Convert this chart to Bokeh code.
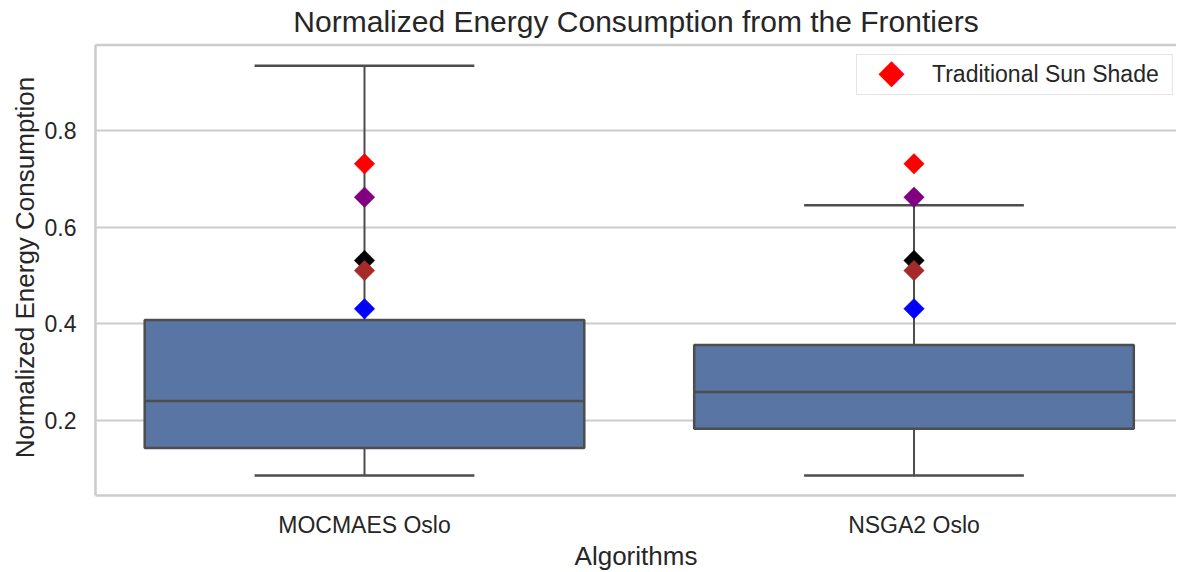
import math
from bokeh.plotting import figure
from bokeh.models import (ColumnDataSource, Range1d, FixedTicker, Legend, LegendItem, Span, Label)
from bokeh.embed import file_html
from bokeh.resources import INLINE

# ---- data ----
categories = ["MOCMAES Oslo", "NSGA2 Oslo"]
whisker_low = [0.086, 0.086]
q1 = [0.143, 0.183]
median = [0.240, 0.259]
q3 = [0.408, 0.356]
whisker_high = [0.934, 0.645]

marker_values = [0.731, 0.662, 0.531, 0.510, 0.431]
marker_colors = ["red", "purple", "black", "brown", "blue"]
marker_labels = ["Traditional Sun Shade", None, None, None, None]

title_text = "Normalized Energy Consumption from the Frontiers"
x_label = "Algorithms"
y_label = "Normalized Energy Consumption"

FONT = "Liberation Sans"
TXT = "#262626"
GRID = "#cccccc"
BOX_FILL = "#5975a4"
EDGE = "#4d4d4d"

xpos = list(range(len(categories)))
box_w = 0.8
cap_w = 0.4
y_top_spine = 0.977

p = figure(width=1176, height=573, output_backend="svg", toolbar_location=None,
           x_range=Range1d(-0.4895, 1.4777), y_range=Range1d(0.0447, 0.9882),
           min_border_left=95, min_border_right=0, min_border_top=0, min_border_bottom=0)

p.title.text = title_text
p.title.text_font = FONT
p.title.text_font_size = "30px"
p.title.text_font_style = "normal"
p.title.text_color = TXT
p.title.align = "center"
p.title.offset = 14
p.title.standoff = 4

p.outline_line_color = None
p.background_fill_color = "white"
p.border_fill_color = "white"

src = ColumnDataSource(dict(
    x=xpos,
    left=[x - box_w / 2 for x in xpos], right=[x + box_w / 2 for x in xpos],
    cl=[x - cap_w / 2 for x in xpos], cr=[x + cap_w / 2 for x in xpos],
    lo=whisker_low, q1=q1, med=median, q3=q3, hi=whisker_high,
))

# whiskers
p.segment(x0="x", y0="q3", x1="x", y1="hi", source=src, line_color=EDGE, line_width=2)
p.segment(x0="x", y0="lo", x1="x", y1="q1", source=src, line_color=EDGE, line_width=2)
# caps
p.segment(x0="cl", y0="hi", x1="cr", y1="hi", source=src, line_color=EDGE, line_width=2.5)
p.segment(x0="cl", y0="lo", x1="cr", y1="lo", source=src, line_color=EDGE, line_width=2.5)
# boxes
p.quad(left="left", right="right", bottom="q1", top="q3", source=src,
       fill_color=BOX_FILL, line_color=EDGE, line_width=2.5)
# medians
p.segment(x0="left", y0="med", x1="right", y1="med", source=src, line_color=EDGE, line_width=2.5)

legend_items = []
legend_color = "red"
for val, col, lab in zip(marker_values, marker_colors, marker_labels):
    r = p.scatter(x=xpos, y=[val] * len(xpos), marker="square", size=14.5,
                  angle=math.pi / 4, fill_color=col, line_color=col, line_width=0.5)
    if lab:
        # legend entry uses an invisible proxy; the diamond glyph is drawn as text below
        proxy = p.scatter(x=[], y=[], marker="square", fill_alpha=0, line_alpha=0)
        legend_items.append(LegendItem(label=lab, renderers=[proxy]))
        legend_color = col

# top spine
p.add_layout(Span(location=y_top_spine, dimension="width", line_color=GRID, line_width=2.5))

# axes
p.xaxis.ticker = FixedTicker(ticks=xpos)
p.xaxis.major_label_overrides = {i: c for i, c in enumerate(categories)}
p.xaxis.axis_label = x_label
p.yaxis.axis_label = y_label
p.yaxis.ticker = FixedTicker(ticks=[0.2, 0.4, 0.6, 0.8])
for ax in (p.xaxis[0], p.yaxis[0]):
    ax.axis_line_color = GRID
    ax.axis_line_width = 2.5
    ax.major_tick_line_color = None
    ax.minor_tick_line_color = None
    ax.major_tick_out = 0
    ax.major_tick_in = 0
    ax.major_label_text_font = FONT
    ax.major_label_text_font_size = "23px"
    ax.major_label_text_color = TXT
    ax.axis_label_text_font = FONT
    ax.axis_label_text_font_size = "26px"
    ax.axis_label_text_font_style = "normal"
    ax.axis_label_text_color = TXT
p.yaxis.major_label_standoff = 19
p.yaxis.axis_label_standoff = 2
p.xaxis.major_label_standoff = 16
p.xaxis.axis_label_standoff = 0
# keep the left spine from running above the top spine
p.yaxis.bounds = (0.0447, y_top_spine)

p.xgrid.grid_line_color = None
p.ygrid.grid_line_color = GRID
p.ygrid.grid_line_width = 2

legend = Legend(items=legend_items, location=(761, 400),
                label_text_font=FONT, label_text_font_size="23px", label_text_color=TXT,
                glyph_width=66, glyph_height=39, label_standoff=9, padding=0, margin=0,
                label_width=240, label_height=39,
                border_line_color=GRID, border_line_width=1.5,
                background_fill_alpha=0.0)
p.add_layout(legend)

# legend diamond glyph
p.add_layout(Label(x=796, y=424.5, x_units="screen", y_units="screen", text="\u25c6",
                   text_font="DejaVu Sans", text_font_size="34px",
                   text_color=legend_color, text_align="center", text_baseline="middle"))

html = file_html(p, INLINE)
html = html.replace("<head>", "<head><style>html,body{overflow:hidden}</style>", 1)
open("out.html", "w").write(html)
